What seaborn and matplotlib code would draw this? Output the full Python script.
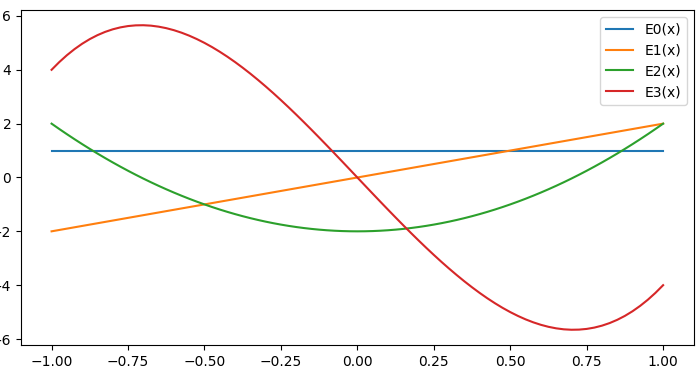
import matplotlib
matplotlib.use("Agg")
import matplotlib.pyplot as plt
import seaborn as sns

# straight lines: endpoints
x_lin = [-1.0, 1.0]
e0 = [1.0, 1.0]
e1 = [-2.0, 2.0]

# curves sampled every 0.025
x = [-1.0, -0.975, -0.95, -0.925, -0.9, -0.875, -0.85, -0.825, -0.8, -0.775,
     -0.75, -0.725, -0.7, -0.675, -0.65, -0.625, -0.6, -0.575, -0.55, -0.525,
     -0.5, -0.475, -0.45, -0.425, -0.4, -0.375, -0.35, -0.325, -0.3, -0.275,
     -0.25, -0.225, -0.2, -0.175, -0.15, -0.125, -0.1, -0.075, -0.05, -0.025,
     0.0,
     0.025, 0.05, 0.075, 0.1, 0.125, 0.15, 0.175, 0.2, 0.225, 0.25,
     0.275, 0.3, 0.325, 0.35, 0.375, 0.4, 0.425, 0.45, 0.475, 0.5,
     0.525, 0.55, 0.575, 0.6, 0.625, 0.65, 0.675, 0.7, 0.725, 0.75,
     0.775, 0.8, 0.825, 0.85, 0.875, 0.9, 0.925, 0.95, 0.975, 1.0]

e2 = [2.0, 1.8025, 1.61, 1.4225, 1.24, 1.0625, 0.89, 0.7225, 0.56, 0.4025,
      0.25, 0.1025, -0.04, -0.1775, -0.31, -0.4375, -0.56, -0.6775, -0.79, -0.8975,
      -1.0, -1.0975, -1.19, -1.2775, -1.36, -1.4375, -1.51, -1.5775, -1.64, -1.6975,
      -1.75, -1.7975, -1.84, -1.8775, -1.91, -1.9375, -1.96, -1.9775, -1.99, -1.9975,
      -2.0,
      -1.9975, -1.99, -1.9775, -1.96, -1.9375, -1.91, -1.8775, -1.84, -1.7975, -1.75,
      -1.6975, -1.64, -1.5775, -1.51, -1.4375, -1.36, -1.2775, -1.19, -1.0975, -1.0,
      -0.8975, -0.79, -0.6775, -0.56, -0.4375, -0.31, -0.1775, -0.04, 0.1025, 0.25,
      0.4025, 0.56, 0.7225, 0.89, 1.0625, 1.24, 1.4225, 1.61, 1.8025, 2.0]

e3 = [4.0, 4.285, 4.541, 4.768, 4.968, 5.141, 5.287, 5.408, 5.504, 5.576,
      5.625, 5.651, 5.656, 5.640, 5.603, 5.547, 5.472, 5.379, 5.269, 5.142,
      5.0, 4.843, 4.671, 4.486, 4.288, 4.078, 3.857, 3.625, 3.384, 3.134,
      2.875, 2.609, 2.336, 2.057, 1.773, 1.484, 1.192, 0.897, 0.599, 0.300,
      0.0,
      -0.300, -0.599, -0.897, -1.192, -1.484, -1.773, -2.057, -2.336, -2.609, -2.875,
      -3.134, -3.384, -3.625, -3.857, -4.078, -4.288, -4.486, -4.671, -4.843, -5.0,
      -5.142, -5.269, -5.379, -5.472, -5.547, -5.603, -5.640, -5.656, -5.651, -5.625,
      -5.576, -5.504, -5.408, -5.287, -5.141, -4.968, -4.768, -4.541, -4.285, -4.0]

labels = ["E0(x)", "E1(x)", "E2(x)", "E3(x)"]
xs = [x_lin, x_lin, x, x]
series = [e0, e1, e2, e3]
colors = sns.color_palette("tab10", 4)

fig, ax = plt.subplots(figsize=(7.0, 3.69), dpi=100)
for lab, xv, ys, c in zip(labels, xs, series, colors):
    sns.lineplot(x=xv, y=ys, label=lab, color=c, ax=ax)

ax.set_xlim(-1.1, 1.1)
ax.set_ylim(-6.223, 6.223)
ax.set_xticks([-1.0, -0.75, -0.5, -0.25, 0.0, 0.25, 0.5, 0.75, 1.0])
ax.legend(loc="upper right")
fig.subplots_adjust(left=0.030, right=0.991, top=0.973, bottom=0.065)
fig.savefig("out.png", dpi=100)
